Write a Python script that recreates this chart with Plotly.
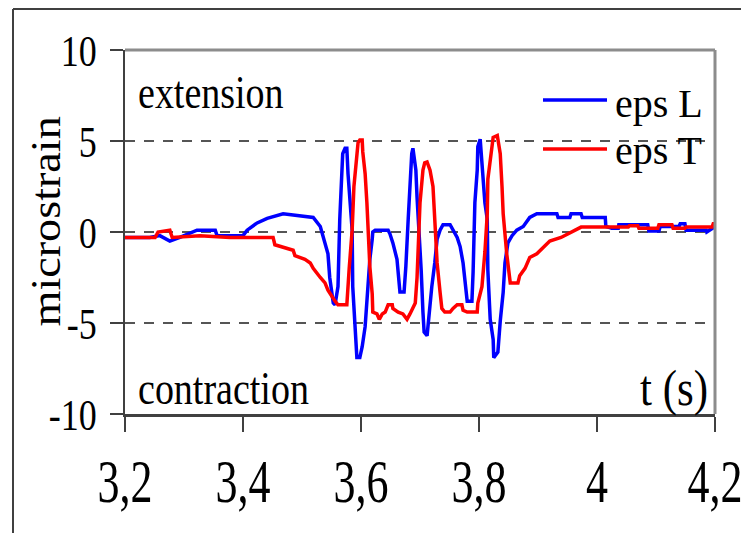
import plotly.graph_objects as go

# Longitudinal strain (eps L): time [s], microstrain
t_L = [3.200, 3.242, 3.259, 3.276, 3.293, 3.322, 3.353, 3.356, 3.400, 3.407,
       3.424, 3.441, 3.468, 3.497, 3.519, 3.531, 3.536, 3.544, 3.547, 3.553,
       3.556, 3.561, 3.564, 3.568, 3.569, 3.573, 3.576, 3.578, 3.581, 3.585,
       3.586, 3.590, 3.593, 3.598, 3.602, 3.607, 3.612, 3.615, 3.619, 3.620,
       3.624, 3.646, 3.649, 3.654, 3.661, 3.663, 3.666, 3.673, 3.676, 3.680,
       3.683, 3.686, 3.688, 3.693, 3.695, 3.698, 3.702, 3.705, 3.707, 3.712,
       3.714, 3.720, 3.725, 3.729, 3.734, 3.739, 3.751, 3.763, 3.768, 3.773,
       3.780, 3.788, 3.790, 3.793, 3.797, 3.798, 3.802, 3.805, 3.807, 3.810,
       3.814, 3.815, 3.819, 3.824, 3.825, 3.832, 3.836, 3.841, 3.844, 3.849,
       3.856, 3.864, 3.875, 3.886, 3.898, 3.932, 3.934, 3.954, 3.956, 3.973,
       3.975, 4.014, 4.015, 4.025, 4.036, 4.037, 4.086, 4.088, 4.105, 4.107,
       4.139, 4.141, 4.149, 4.151, 4.185, 4.186, 4.200]
eps_L = [-0.3, -0.3, -0.2, -0.5, -0.3, 0.1, 0.1, -0.2, -0.2, 0.1,
         0.5, 0.75, 1.0, 0.9, 0.8, 0.3, -0.3, -1.2, -2.5, -3.9,
         -4.0, -3.0, 0.7, 3.4, 4.3, 4.6, 4.6, 3.2, 1.6, 0.1,
         -3.0, -5.8, -6.9, -6.9, -6.3, -5.2, -3.0, -1.5, -0.4, 0.0,
         0.1, 0.1, -0.1, -0.6, -1.5, -2.3, -3.3, -3.3, -1.9, 0.7,
         2.9, 4.3, 4.6, 3.4, 1.9, 0.3, -2.1, -4.4, -5.5, -5.7,
         -5.0, -3.0, -1.7, -0.4, 0.1, 0.4, 0.4, -0.3, -0.8, -1.7,
         -3.8, -3.8, -2.2, 1.6, 3.4, 4.7, 5.1, 3.9, 2.9, 1.6,
         0.7, -2.1, -4.8, -5.9, -6.9, -6.6, -4.9, -3.3, -1.7, -0.6,
         -0.2, 0.1, 0.3, 0.8, 1.0, 1.0, 0.8, 0.8, 1.0, 1.0,
         0.8, 0.8, 0.3, 0.2, 0.2, 0.4, 0.4, 0.05, 0.05, 0.3,
         0.3, 0.45, 0.45, 0.1, 0.1, 0.0, 0.3]

# Transverse strain (eps T): time [s], microstrain
t_T = [3.200, 3.251, 3.256, 3.276, 3.280, 3.327, 3.378, 3.451, 3.454, 3.485,
       3.488, 3.505, 3.514, 3.519, 3.531, 3.539, 3.544, 3.551, 3.556, 3.561,
       3.576, 3.580, 3.585, 3.588, 3.592, 3.595, 3.598, 3.602, 3.603, 3.607,
       3.610, 3.612, 3.615, 3.619, 3.620, 3.627, 3.631, 3.636, 3.641, 3.646,
       3.653, 3.654, 3.663, 3.671, 3.678, 3.683, 3.692, 3.695, 3.697, 3.700,
       3.705, 3.708, 3.712, 3.717, 3.722, 3.725, 3.729, 3.734, 3.737, 3.742,
       3.751, 3.756, 3.763, 3.771, 3.773, 3.780, 3.797, 3.798, 3.805, 3.810,
       3.814, 3.815, 3.820, 3.824, 3.831, 3.836, 3.839, 3.841, 3.847, 3.853,
       3.866, 3.869, 3.878, 3.886, 3.898, 3.908, 3.920, 3.939, 3.956, 3.973,
       4.014, 4.053, 4.055, 4.069, 4.071, 4.103, 4.105, 4.127, 4.129, 4.149,
       4.151, 4.195, 4.197, 4.200]
eps_T = [-0.3, -0.3, 0.0, 0.1, -0.3, -0.2, -0.3, -0.3, -0.7, -1.0,
         -1.3, -1.5, -1.7, -2.0, -2.5, -2.8, -3.2, -3.6, -3.8, -4.0,
         -4.0, -2.0, 0.1, 2.5, 4.0, 4.9, 5.05, 5.05, 4.4, 3.2,
         1.6, 0.1, -1.9, -3.4, -4.4, -4.5, -4.8, -4.5, -4.4, -4.0,
         -4.0, -4.2, -4.4, -4.5, -4.8, -4.5, -3.9, -2.5, -0.3, 1.6,
         3.4, 3.8, 3.85, 3.4, 2.5, 0.3, -1.7, -3.3, -4.2, -4.4,
         -4.4, -4.2, -4.0, -4.0, -4.3, -4.4, -4.4, -3.9, -3.0, -1.1,
         1.0, 2.9, 4.3, 5.2, 5.3, 4.3, 2.5, 1.0, -1.2, -2.8,
         -2.8, -2.4, -2.0, -1.4, -1.2, -0.9, -0.5, -0.3, 0.0, 0.27,
         0.27, 0.27, 0.35, 0.35, 0.2, 0.2, 0.4, 0.4, 0.2, 0.2,
         0.27, 0.27, 0.45, 0.45]

x_ticks = [3.2, 3.4, 3.6, 3.8, 4.0, 4.2]
x_tick_text = ["3,2", "3,4", "3,6", "3,8", "4", "4,2"]
y_ticks = [-10, -5, 0, 5, 10]
y_tick_text = ["-10", "-5", "0", "5", "10"]

series_names = ["eps L", "eps T"]
series_colors = ["#0000ff", "#ff0000"]

FONT = "Liberation Serif"

fig = go.Figure()
fig.add_trace(go.Scatter(x=t_L, y=eps_L, mode="lines", name=series_names[0],
                         line=dict(color=series_colors[0], width=3.5)))
fig.add_trace(go.Scatter(x=t_T, y=eps_T, mode="lines", name=series_names[1],
                         line=dict(color=series_colors[1], width=3.5)))

W, H = 741, 533
L, R, T, B = 125, 26, 50, 119
pw, ph = W - L - R, H - T - B


def px_x(x):
    return (x - L) / pw


def px_y(y):
    return 1 - (y - T) / ph


shapes = [
    # plot-area border (top and right)
    dict(type="line", xref="paper", yref="paper", x0=0, x1=1, y0=1, y1=1,
         line=dict(color="#8c8c8c", width=3), layer="above"),
    dict(type="line", xref="paper", yref="paper", x0=1, x1=1, y0=0, y1=1,
         line=dict(color="#8c8c8c", width=3), layer="above"),
    # outer chart frame
    dict(type="line", xref="paper", yref="paper", x0=px_x(13), x1=px_x(13),
         y0=px_y(9), y1=px_y(600), line=dict(color="#404040", width=2)),
    dict(type="line", xref="paper", yref="paper", x0=px_x(13), x1=px_x(800),
         y0=px_y(9), y1=px_y(9), line=dict(color="#404040", width=2)),
]

# legend samples
legend_rows = [100, 149]
for name, color, yrow in zip(series_names, series_colors, legend_rows):
    shapes.append(dict(type="line", xref="paper", yref="paper",
                       x0=px_x(543), x1=px_x(607), y0=px_y(yrow), y1=px_y(yrow),
                       line=dict(color=color, width=3.5)))

annotations = [
    dict(text="extension", x=px_x(136), y=px_y(92), xanchor="left", yanchor="middle",
         font=dict(size=38)),
    dict(text="contraction", x=px_x(136), y=px_y(388), xanchor="left", yanchor="middle",
         font=dict(size=38)),
    dict(text="t (s)", x=px_x(710), y=px_y(388), xanchor="right", yanchor="middle",
         font=dict(size=43)),
    dict(text=series_names[0], x=px_x(613), y=px_y(103), xanchor="left", yanchor="middle",
         font=dict(size=40)),
    dict(text=series_names[1], x=px_x(613), y=px_y(150), xanchor="left", yanchor="middle",
         font=dict(size=40)),
    dict(text="microstrain", x=px_x(46), y=px_y(222), xanchor="center", yanchor="middle",
         textangle=-90, font=dict(size=42)),
]
for a in annotations:
    a.update(xref="paper", yref="paper", showarrow=False)
    a["font"].update(family=FONT, color="black")

fig.update_layout(
    width=W, height=H,
    margin=dict(l=L, r=R, t=T, b=B),
    paper_bgcolor="white", plot_bgcolor="white",
    showlegend=False,
    font=dict(family=FONT, color="black"),
    shapes=shapes,
    annotations=annotations,
    xaxis=dict(range=[3.2, 4.2], tickvals=x_ticks, ticktext=x_tick_text,
               ticks="outside", ticklen=15, tickwidth=1.5, tickcolor="#404040",
               showline=True, linecolor="#404040", linewidth=2.5,
               showgrid=False, zeroline=False, ticklabelstandoff=12,
               ticklabeloverflow="allow", automargin=False,
               tickfont=dict(size=44, family=FONT, color="black")),
    yaxis=dict(range=[-10, 10], tickvals=y_ticks, ticktext=y_tick_text,
               ticks="outside", ticklen=13, tickwidth=1.5, tickcolor="#404040",
               showline=True, linecolor="#404040", linewidth=2,
               showgrid=True, gridcolor="#555555", gridwidth=1.5,
               griddash="10px,9px", zeroline=False, ticklabelstandoff=6,
               automargin=False,
               tickfont=dict(size=36, family=FONT, color="black")),
)

# The serif lettering of the ticks and plot-area notes is drawn tall and
# narrow: stretch those text elements about their own centre (vertically,
# or along the reading direction for the rotated axis title).
stretch_js = """
(function () {
  var gd = document.getElementById('{plot_id}');
  var notes = {'extension': 1.22, 'contraction': 1.22, 't (s)': 1.2};
  function stretch() {
    var groups = [['.xtick text', 1.4], ['.ytick text', 1.25], ['.annotation-text', 0]];
    groups.forEach(function (g) {
      gd.querySelectorAll(g[0]).forEach(function (t) {
        if (t.getAttribute('data-st')) return;
        var txt = t.textContent;
        var s = g[1] || notes[txt] || 1;
        var bb = t.getBBox();
        var tr = t.getAttribute('transform') || '';
        if (txt === 'microstrain') {
          var cx = bb.x + bb.width / 2;
          tr += ' translate(' + cx + ',0) scale(1.1,1) translate(' + (-cx) + ',0)';
        } else if (s !== 1) {
          var cy = bb.y + bb.height / 2;
          tr += ' translate(0,' + cy + ') scale(1,' + s + ') translate(0,' + (-cy) + ')';
        }
        t.setAttribute('transform', tr);
        t.setAttribute('data-st', '1');
      });
    });
  }
  stretch();
  if (gd.on) gd.on('plotly_afterplot', stretch);
})();
"""

fig.write_html("out.html", post_script=stretch_js)
